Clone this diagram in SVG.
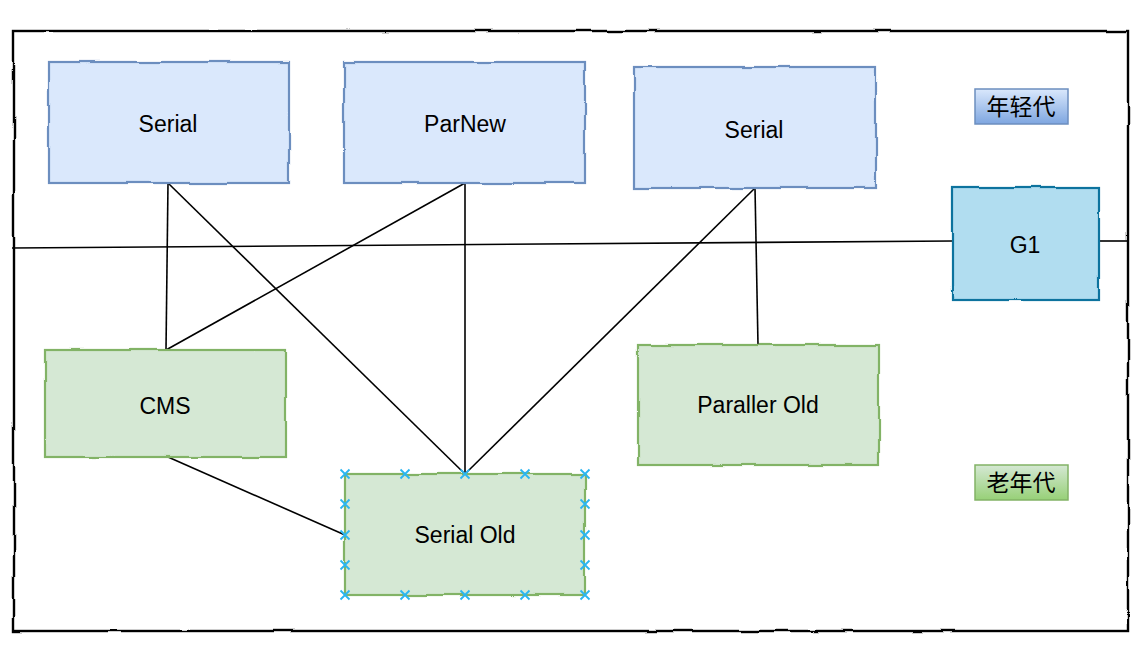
<svg xmlns="http://www.w3.org/2000/svg" width="1142" height="654" viewBox="0 0 1142 654">
  <defs>
    <!-- hand-drawn wobble for outlines -->
    <filter id="rough" x="-5%" y="-5%" width="110%" height="110%">
      <feTurbulence type="fractalNoise" baseFrequency="0.03" numOctaves="1" seed="3" result="n"/>
      <feDisplacementMap in="SourceGraphic" in2="n" scale="4" xChannelSelector="R" yChannelSelector="G"/>
    </filter>
    <linearGradient id="gYoung" x1="0" y1="0" x2="0" y2="1">
      <stop offset="0" stop-color="#dae8fc"/>
      <stop offset="1" stop-color="#7ea6e0"/>
    </linearGradient>
    <linearGradient id="gOld" x1="0" y1="0" x2="0" y2="1">
      <stop offset="0" stop-color="#d5e8d4"/>
      <stop offset="1" stop-color="#97d077"/>
    </linearGradient>
    <path id="xmark" d="M-4.5,-4.5 L4.5,4.5 M-4.5,4.5 L4.5,-4.5"/>
  </defs>
  <style>
    .lbl { font-family: "Liberation Sans", Arial, sans-serif; font-size: 23px; fill: #000; text-anchor: middle; dominant-baseline: central; }
    .cjk { font-family: "Liberation Sans", "Noto Sans CJK SC", sans-serif; font-size: 23px; fill: #000; text-anchor: middle; dominant-baseline: central; }
    .young { fill: #dae8fc; stroke: #6c8ebf; stroke-width: 2.2; }
    .old { fill: #d5e8d4; stroke: #82b366; stroke-width: 2.2; }
    .g1 { fill: #b1ddf0; stroke: #10739e; stroke-width: 2.2; }
    .edge { fill: none; stroke: #000; stroke-width: 1.6; }
    .x { fill: none; stroke: #29b6f2; stroke-width: 1.8; }
  </style>

  <rect width="1142" height="654" fill="#ffffff"/>

  <!-- outer frame -->
  <g id="frame" filter="url(#rough)">
    <rect x="14" y="31" width="1114" height="600" fill="none" stroke="#000" stroke-width="2.4"/>
  </g>

  <!-- connectors -->
  <g id="connectors" class="edge">
    <path class="edge" d="M12,248 L952,241"/>
    <path class="edge" d="M1099,241 L1128,241"/>
    <path class="edge" d="M168,183 L166,350"/>
    <path class="edge" d="M168,183 L465,474"/>
    <path class="edge" d="M465,183 L166,350"/>
    <path class="edge" d="M465,183 L465,474"/>
    <path class="edge" d="M755,188 L465,474"/>
    <path class="edge" d="M755,188 L758,345"/>
    <path class="edge" d="M168,457 L345,535"/>
  </g>

  <g id="serial-young">
    <rect class="young" x="49" y="62" width="240" height="121" filter="url(#rough)"/>
    <text class="lbl" x="168" y="124">Serial</text>
  </g>

  <g id="parnew">
    <rect class="young" x="344" y="62" width="241" height="121" filter="url(#rough)"/>
    <text class="lbl" x="465" y="124">ParNew</text>
  </g>

  <g id="serial-young-2">
    <rect class="young" x="634" y="67" width="242" height="121" filter="url(#rough)"/>
    <text class="lbl" x="754" y="130">Serial</text>
  </g>

  <g id="g1">
    <rect class="g1" x="952" y="187" width="147" height="113" filter="url(#rough)"/>
    <text class="lbl" x="1025" y="245">G1</text>
  </g>

  <g id="cms">
    <rect class="old" x="45" y="350" width="241" height="107" filter="url(#rough)"/>
    <text class="lbl" x="165" y="406">CMS</text>
  </g>

  <g id="paraller-old">
    <rect class="old" x="638" y="345" width="241" height="120" filter="url(#rough)"/>
    <text class="lbl" x="758" y="405">Paraller Old</text>
  </g>

  <g id="serial-old">
    <rect class="old" x="345" y="474" width="240" height="121" filter="url(#rough)"/>
    <text class="lbl" x="465" y="535">Serial Old</text>
    <!-- selection handles -->
    <g class="x">
      <use href="#xmark" x="345" y="474"/><use href="#xmark" x="405" y="474"/><use href="#xmark" x="465" y="474"/><use href="#xmark" x="525" y="474"/><use href="#xmark" x="585" y="474"/>
      <use href="#xmark" x="345" y="595"/><use href="#xmark" x="405" y="595"/><use href="#xmark" x="465" y="595"/><use href="#xmark" x="525" y="595"/><use href="#xmark" x="585" y="595"/>
      <use href="#xmark" x="345" y="504"/><use href="#xmark" x="345" y="535"/><use href="#xmark" x="345" y="565"/>
      <use href="#xmark" x="585" y="504"/><use href="#xmark" x="585" y="535"/><use href="#xmark" x="585" y="565"/>
    </g>
  </g>

  <g id="young-gen-label">
    <rect x="975" y="89" width="93" height="35" fill="url(#gYoung)" stroke="#6c8ebf" stroke-width="1.5"/>
    <text class="cjk" x="1021" y="107">年轻代</text>
  </g>

  <g id="old-gen-label">
    <rect x="975" y="465" width="93" height="35" fill="url(#gOld)" stroke="#82b366" stroke-width="1.5"/>
    <text class="cjk" x="1021" y="483">老年代</text>
  </g>
</svg>
